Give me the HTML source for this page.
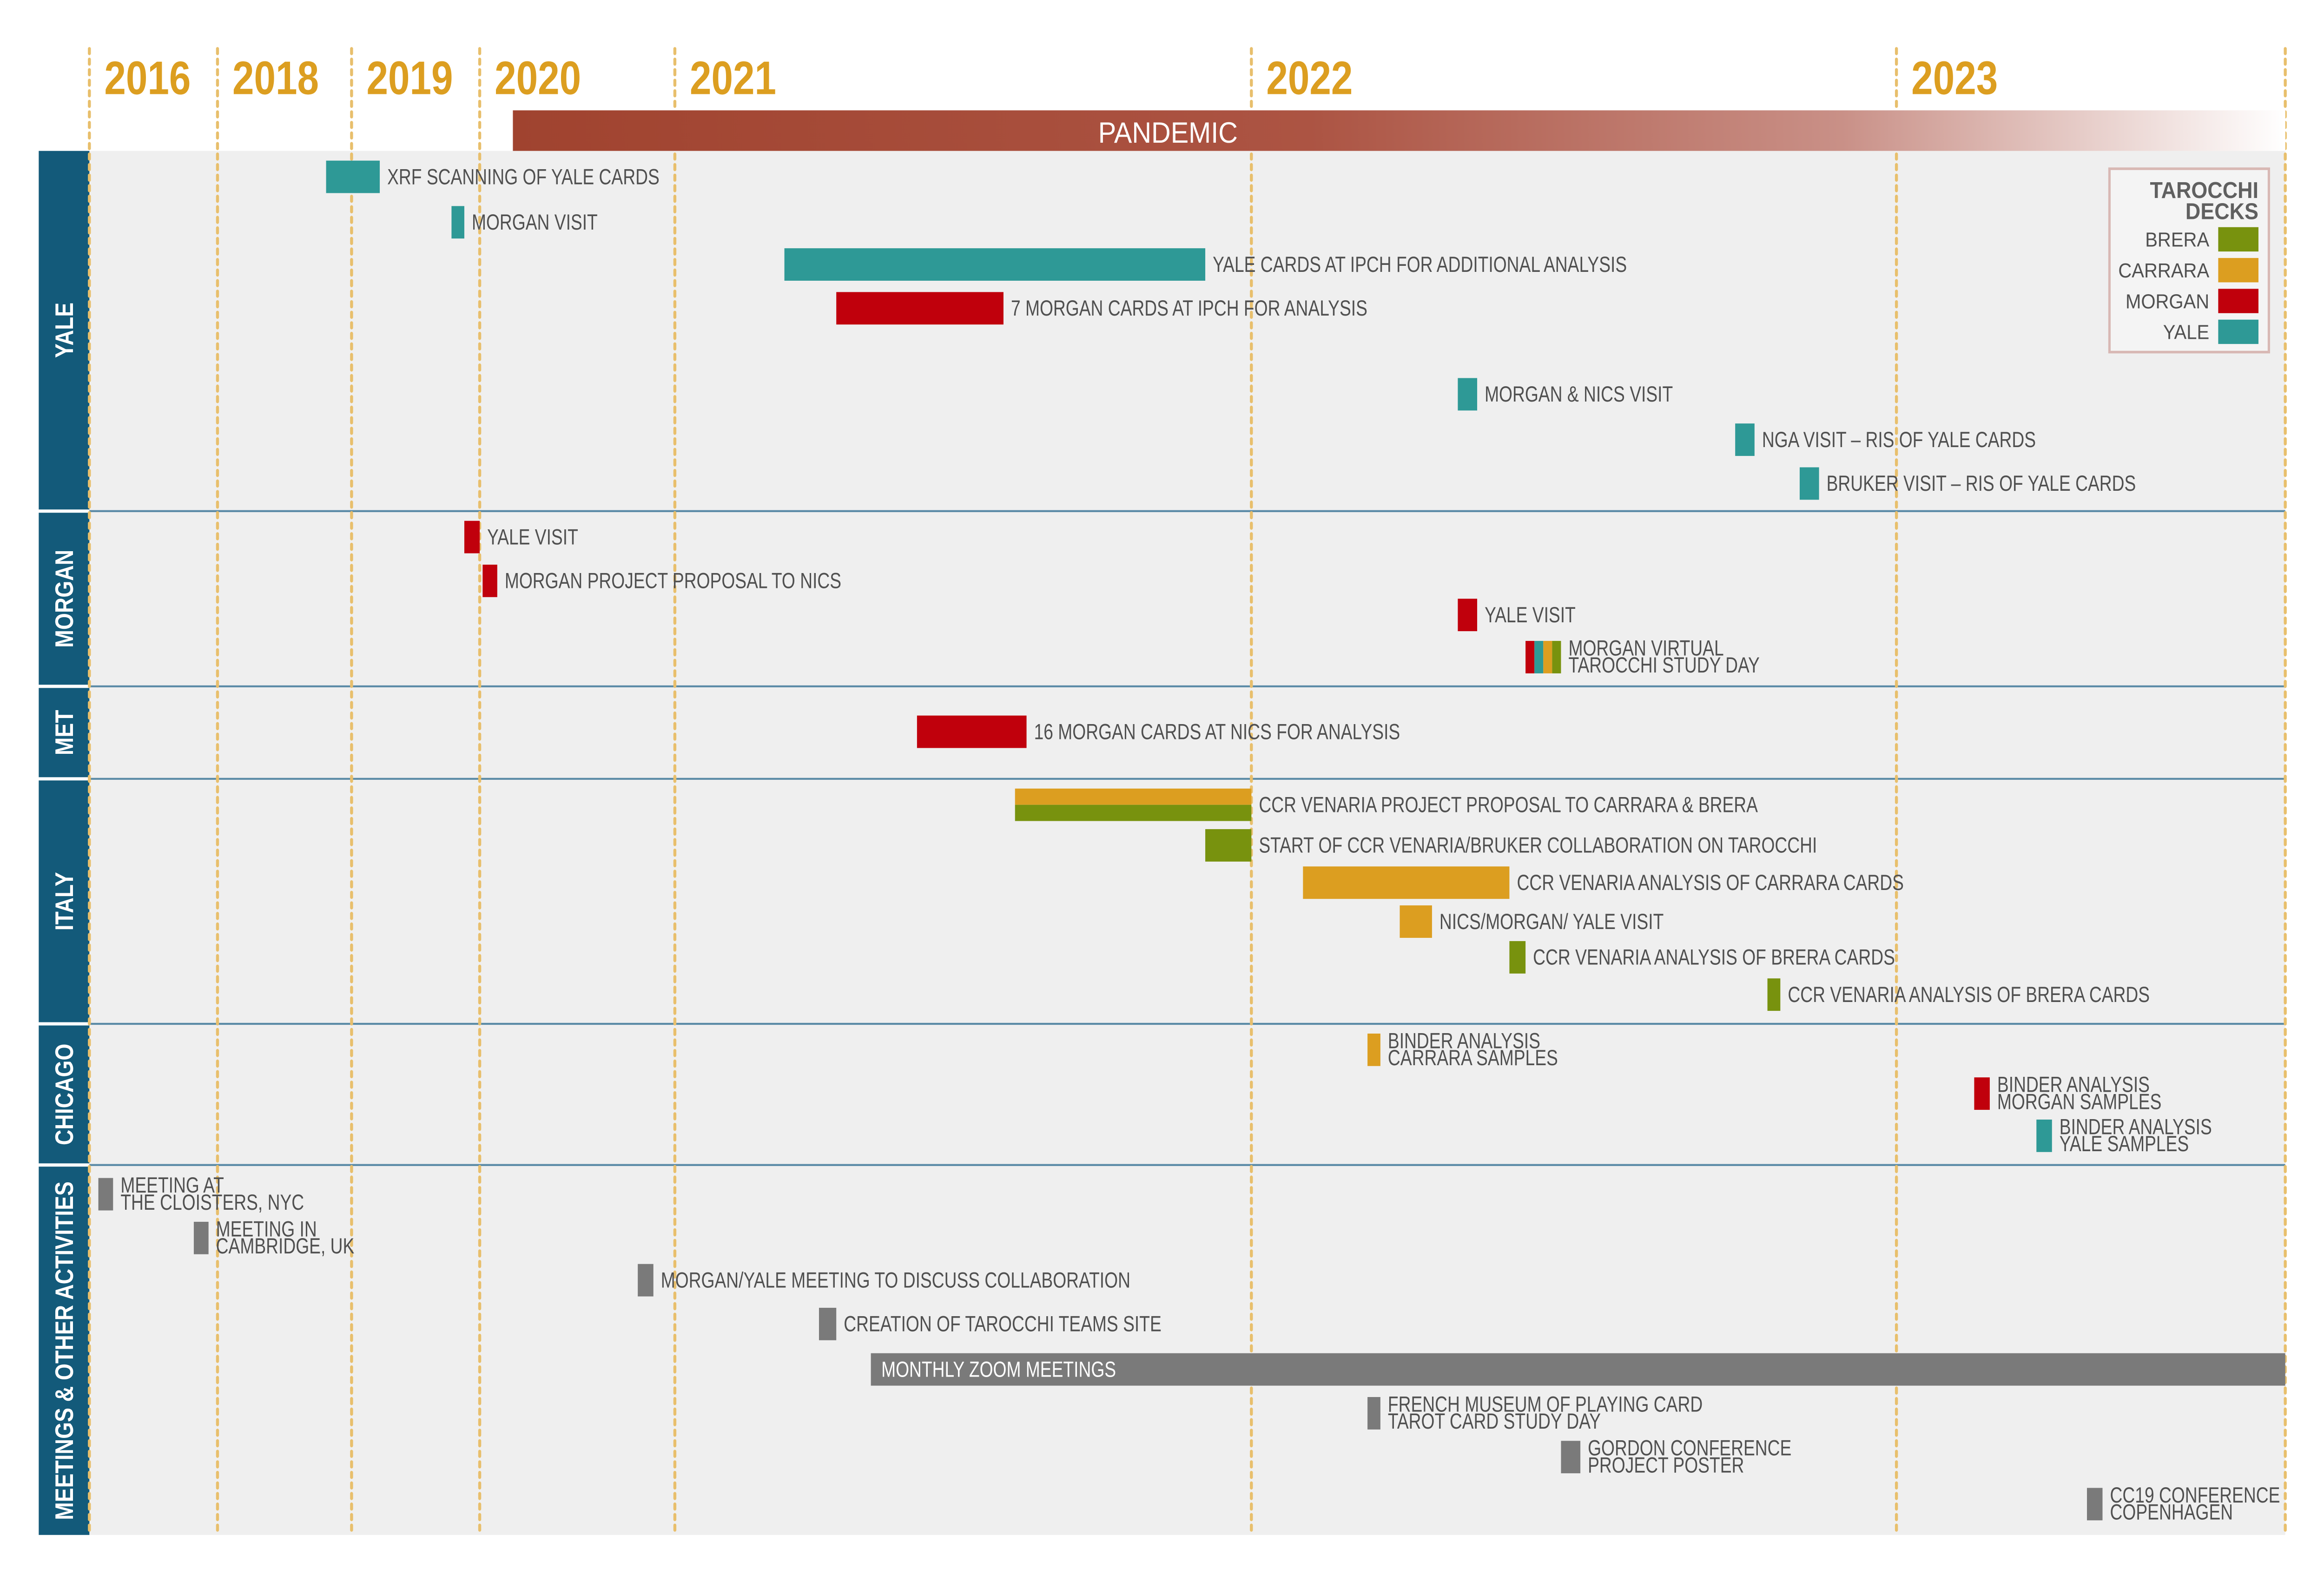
<!DOCTYPE html>
<html><head><meta charset="utf-8"><style>
html,body{margin:0;padding:0;background:#fff;width:100vw;height:100vh;overflow:hidden;}
svg{display:block;position:absolute;left:0;top:0;width:100vw;height:100vh;}
text{font-family:"Liberation Sans",sans-serif;}
</style></head><body>
<svg id="chart" width="100%" height="100%" viewBox="0 0 1560 975" preserveAspectRatio="none" xmlns="http://www.w3.org/2000/svg">
<defs>
<linearGradient id="pg" x1="0" x2="1" y1="0" y2="0">
<stop offset="0" stop-color="#a0432f"/><stop offset="0.45" stop-color="#ac5443"/><stop offset="0.75" stop-color="#c99087"/><stop offset="1" stop-color="#ffffff"/>
</linearGradient>
</defs>
<g id="bgG"></g>
<g id="marksG"></g>
<g id="topG"></g>
</svg>
<script>
const yearTicks = [2016, 2018, 2019, 2020, 2021, 2022, 2023, 2024];
const yearLabels = ["2016", "2018", "2019", "2020", "2021", "2022", "2023"];
const rowNames = ["YALE", "MORGAN", "MET", "ITALY", "CHICAGO", "MEETINGS & OTHER ACTIVITIES"];
const eventLabels = [
 "XRF SCANNING OF YALE CARDS","MORGAN VISIT","YALE CARDS AT IPCH FOR ADDITIONAL ANALYSIS","7 MORGAN CARDS AT IPCH FOR ANALYSIS",
 "MORGAN & NICS VISIT","NGA VISIT – RIS OF YALE CARDS","BRUKER VISIT – RIS OF YALE CARDS",
 "YALE VISIT","MORGAN PROJECT PROPOSAL TO NICS","YALE VISIT","MORGAN VIRTUAL|TAROCCHI STUDY DAY",
 "16 MORGAN CARDS AT NICS FOR ANALYSIS",
 "CCR VENARIA PROJECT PROPOSAL TO CARRARA & BRERA","START OF CCR VENARIA/BRUKER COLLABORATION ON TAROCCHI",
 "CCR VENARIA ANALYSIS OF CARRARA CARDS","NICS/MORGAN/ YALE VISIT","CCR VENARIA ANALYSIS OF BRERA CARDS","CCR VENARIA ANALYSIS OF BRERA CARDS",
 "BINDER ANALYSIS|CARRARA SAMPLES","BINDER ANALYSIS|MORGAN SAMPLES","BINDER ANALYSIS|YALE SAMPLES",
 "MEETING AT|THE CLOISTERS, NYC","MEETING IN|CAMBRIDGE, UK","MORGAN/YALE MEETING TO DISCUSS COLLABORATION","CREATION OF TAROCCHI TEAMS SITE",
 "MONTHLY ZOOM MEETINGS","FRENCH MUSEUM OF PLAYING CARD|TAROT CARD STUDY DAY","GORDON CONFERENCE|PROJECT POSTER","CC19 CONFERENCE|COPENHAGEN"
];
const eventStarts = [2018.81,2019.78,2021.19,2021.28,2022.32,2022.75,2022.85,2019.88,2020.015,2022.32,2022.425,2021.42,2021.59,2021.92,2022.08,2022.23,2022.40,2022.80,2022.18,2023.20,2023.36,2016.14,2017.63,2020.81,2021.25,2021.34,2022.18,2022.48,2023.49];
const eventEnds   = [2019.22,2019.88,2021.92,2021.57,2022.35,2022.78,2022.88,2020.0,2020.09,2022.35,2022.48,2021.61,2022.0,2022.0,2022.40,2022.28,2022.425,2022.82,2022.20,2023.24,2023.40,2016.37,2017.86,2020.89,2021.28,2024.0,2022.20,2022.51,2023.53];
const eventDecks  = ["yale","yale","yale","morgan","yale","yale","yale","morgan","morgan","morgan","multi","morgan","carrara+brera","brera","carrara","carrara","brera","brera","carrara","morgan","yale","meeting","meeting","meeting","meeting","meeting","meeting","meeting","meeting"];
const eventLanes  = [0,1,2,3,5,6,7, 0,1,2,3, 0, 0,1,2,3,4,5, 0,1,2, 0,1,2,3,4,5,6,7];
const eventRows   = [0,0,0,0,0,0,0, 1,1,1,1, 2, 3,3,3,3,3,3, 4,4,4, 5,5,5,5,5,5,5,5];
const legendNames = ["BRERA","CARRARA","MORGAN","YALE"];

const tickX = [60,146,236,322,453,840,1273,1534];
const colors = {yale:"#2e9996",morgan:"#c0000c",carrara:"#dc9e20",brera:"#78920e",meeting:"#7a7a7a"};
const rowTop = [93,316,424,481,632,719];
const rowBot = [314,422,479,630,717,946];
const laneStart = [[99,127,153,180,206,233,261,288],[321,348,369,395],[441],[486,511,534,558,580,603],[637,664,690],[726,753,779,806,834,861,888,917]];
function xScale(t){
  for(let i=0;i<yearTicks.length-1;i++){
    if(t<=yearTicks[i+1]||i===yearTicks.length-2){
      return tickX[i]+(t-yearTicks[i])/(yearTicks[i+1]-yearTicks[i])*(tickX[i+1]-tickX[i]);
    }
  }
}
const NS="http://www.w3.org/2000/svg";
function mk(tag,attrs,parent){const e=document.createElementNS(NS,tag);for(const k in attrs)e.setAttribute(k,attrs[k]);parent.appendChild(e);return e;}
const bgG=document.getElementById('bgG'),marksG=document.getElementById('marksG'),topG=document.getElementById('topG');

let r=mk('rect',{x:60,y:93,width:1474,height:853,fill:'#efefef'},bgG);


rowNames.forEach((n,i)=>{
  const s=mk('rect',{x:26,y:rowTop[i],width:34,height:rowBot[i]-rowTop[i],fill:'#135a7a'},bgG);
  
  
  const cy=(rowTop[i]+rowBot[i])/2;
  const t=mk('text',{x:0,y:0,transform:`translate(49,${cy}) rotate(-90) scale(0.78,1)`,'text-anchor':'middle',fill:'#fff','font-size':17,'font-weight':'bold'},bgG);
  t.textContent=n;
  
  
  if(i>0){const l=mk('line',{x1:60,x2:1534,y1:rowTop[i]-1,y2:rowTop[i]-1,stroke:'#5a8aa6','stroke-width':1.2},bgG);
  
  }
});
yearTicks.forEach((y,i)=>{
  const x=xScale(y);
  const l=mk('line',{x1:x,x2:x,y1:30,y2:946,stroke:'#e8bf6c','stroke-width':2,'stroke-dasharray':'3,3.5','stroke-linecap':'round'},bgG);
  
  
  if(i<yearLabels.length){
    const t=mk('text',{x:0,y:0,transform:`translate(${x+10},58) scale(0.9,1)`,fill:'#dc9e20','font-size':29,'font-weight':'bold'},topG);
    t.textContent=yearLabels[i];
    
    
  }
});
const px1=xScale(2020.17),px2=xScale(2024);
let p=mk('rect',{x:px1,y:68,width:px2-px1,height:25,fill:'url(#pg)'},topG);


let pt=mk('text',{x:784,y:88,'text-anchor':'middle',fill:'#fff','font-size':18},topG);
pt.textContent='PANDEMIC';



eventLabels.forEach((lab,i)=>{
  const x1=xScale(eventStarts[i]),x2=xScale(eventEnds[i]);
  const y=laneStart[eventRows[i]][eventLanes[i]],h=20,w=x2-x1;
  const d=eventDecks[i];
  const g=mk('g',{},marksG);
  
  
  if(d==='multi'){
    ['morgan','yale','carrara','brera'].forEach((c,k)=>mk('rect',{x:x1+k*w/4,y:y,width:w/4,height:h,fill:colors[c]},g));
  }else if(d==='carrara+brera'){
    mk('rect',{x:x1,y:y,width:w,height:h/2,fill:colors.carrara},g);
    mk('rect',{x:x1,y:y+h/2,width:w,height:h/2,fill:colors.brera},g);
  }else mk('rect',{x:x1,y:y,width:w,height:h,fill:colors[d]},g);
  const lines=lab.split('|');
  const inside=(d==='meeting'&&w>500);
  lines.forEach((ln,k)=>{
    const ty=lines.length===1? y+h/2+4.5 : y+9+k*10.5;
    const tx=inside?x1+7:x2+5;
    const t=mk('text',{x:0,y:0,transform:`translate(${tx},${ty}) scale(0.86,1)`,fill:inside?'#fff':'#505050','font-size':13.5},marksG);
    t.textContent=ln;
    
    
  });
});

const lg=mk('g',{},topG);


mk('rect',{x:1416,y:104,width:107,height:113,fill:'#f4f4f4',stroke:'#d8b8b4','stroke-width':1.6},lg);
[['TAROCCHI',122],['DECKS',135]].forEach(([s,y])=>{const t=mk('text',{x:1516,y:y,'text-anchor':'end',fill:'#606060','font-size':14,'font-weight':'bold'},lg);t.textContent=s;});
legendNames.forEach((n,k)=>{
  const y=140+k*19;
  const sw=mk('rect',{x:1489,y:y,width:27,height:15,fill:colors[n.toLowerCase()]},lg);
  
  
  const t=mk('text',{x:1483,y:y+12,'text-anchor':'end',fill:'#505050','font-size':12.5},lg);
  t.textContent=n;
  
  
});
</script>
</body></html>
